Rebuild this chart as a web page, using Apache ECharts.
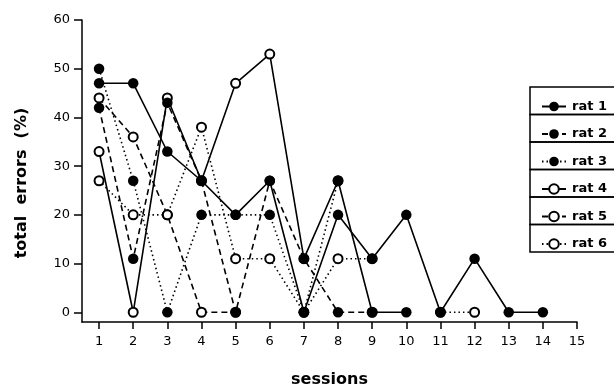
<!DOCTYPE html>
<html><head><meta charset="utf-8">
<script src="https://cdn.jsdelivr.net/npm/echarts@6/dist/echarts.min.js"></script>
<style>html,body{margin:0;padding:0;background:#fff}#c{width:614px;height:388px}</style>
</head><body><div id="c"></div>
<script>
const sessions = [1,2,3,4,5,6,7,8,9,10,11,12,13,14];
const rat1 = [47,47,33,27,20,27,0,20,11,20,0,11,0,0];
const rat2 = [42,11,43,27,0,27,11,0,0];
const rat3 = [50,27,0,20,20,20,0,27];
const rat4 = [33,0,44,27,47,53,11,27,0,0];
const rat5 = [44,36,20,0,0];
const rat6 = [27,20,20,38,11,11,0,11,11,null,0,0];
const yTicks = [0,10,20,30,40,50,60];
const xTicks = [1,2,3,4,5,6,7,8,9,10,11,12,13,14,15];
const ratNames = ['rat 1','rat 2','rat 3','rat 4','rat 5','rat 6'];

const toPairs = arr => arr.map((v,i) => [sessions[i], v]);
const FONT = 'DejaVu Sans';
const solid = {type:'solid', width:1.6, color:'#000'};
const dashed = {type:[6,4], width:1.6, color:'#000'};
const dotted = {type:[1.5,3], width:1.6, color:'#000'};
const filled = {color:'#000', borderColor:'#000', borderWidth:0};
const open = {color:'#fff', borderColor:'#000', borderWidth:2};

function mk(name, data, ls, filledMarker, z) {
  return {
    name, type:'line', data: toPairs(data), connectNulls:false,
    symbol:'circle', symbolSize: filledMarker ? 10.5 : 9,
    showSymbol:true, lineStyle: ls, itemStyle: filledMarker ? filled : open,
    emphasis:{disabled:true}, z
  };
}

const series = [
  mk(ratNames[3], rat4, solid, false, 2),
  mk(ratNames[4], rat5, dashed, false, 2),
  mk(ratNames[5], rat6, dotted, false, 2),
  mk(ratNames[0], rat1, solid, true, 3),
  mk(ratNames[1], rat2, dashed, true, 3),
  mk(ratNames[2], rat3, dotted, true, 3)
];
// last point of rat 4 appears filled in the reference
series[0].data[rat4.length-1] = {value:[sessions[rat4.length-1], rat4[rat4.length-1]], itemStyle:filled, symbolSize:10.5};

const rowTop = 87, rowH = 27.5;
const legends = ratNames.map((n,i) => ({
  data:[n], orient:'horizontal', left:536, top: rowTop + i*rowH + 8,
  itemWidth:24, itemHeight:12, selectedMode:false,
  textStyle:{fontFamily:FONT, fontWeight:'bold', fontSize:13, color:'#000', padding:[0,0,0,1]}
}));
const boxes = ratNames.map((n,i) => ({
  type:'rect', shape:{x:530, y: rowTop + i*rowH, width:100, height:rowH},
  style:{fill:'none', stroke:'#000', lineWidth:1.5}, silent:true
}));

const chart = echarts.init(document.getElementById('c'), null, {renderer:'canvas'});
chart.setOption({
  animation:false,
  backgroundColor:'#fff',
  grid:{left:82, right:37, top:20, bottom:66, containLabel:false, outerBoundsMode:'none'},
  xAxis:{
    type:'value', min:0.5, max:15,
    name:'sessions', nameLocation:'middle', nameGap:50,
    nameTextStyle:{fontFamily:FONT, fontWeight:'bold', fontSize:16, color:'#000'},
    axisLine:{show:true, onZero:false, lineStyle:{color:'#000', width:1.5}},
    axisTick:{show:true, customValues:xTicks, length:7, lineStyle:{color:'#000', width:1.5}},
    axisLabel:{customValues:xTicks, margin:13, fontFamily:FONT, fontSize:13, color:'#000'},
    splitLine:{show:false}
  },
  yAxis:{
    type:'value', min:-2, max:60,
    name:'total  errors  (%)', nameLocation:'middle', nameGap:52,
    nameTextStyle:{fontFamily:FONT, fontWeight:'bold', fontSize:16, color:'#000', padding:[0,24,0,0]},
    axisLine:{show:true, onZero:false, lineStyle:{color:'#000', width:1.5}},
    axisTick:{show:true, customValues:yTicks, length:8, lineStyle:{color:'#000', width:1.5}},
    axisLabel:{customValues:yTicks, margin:12, fontFamily:FONT, fontSize:13, color:'#000'},
    splitLine:{show:false}
  },
  legend: legends,
  graphic: boxes,
  series
});
</script></body></html>
